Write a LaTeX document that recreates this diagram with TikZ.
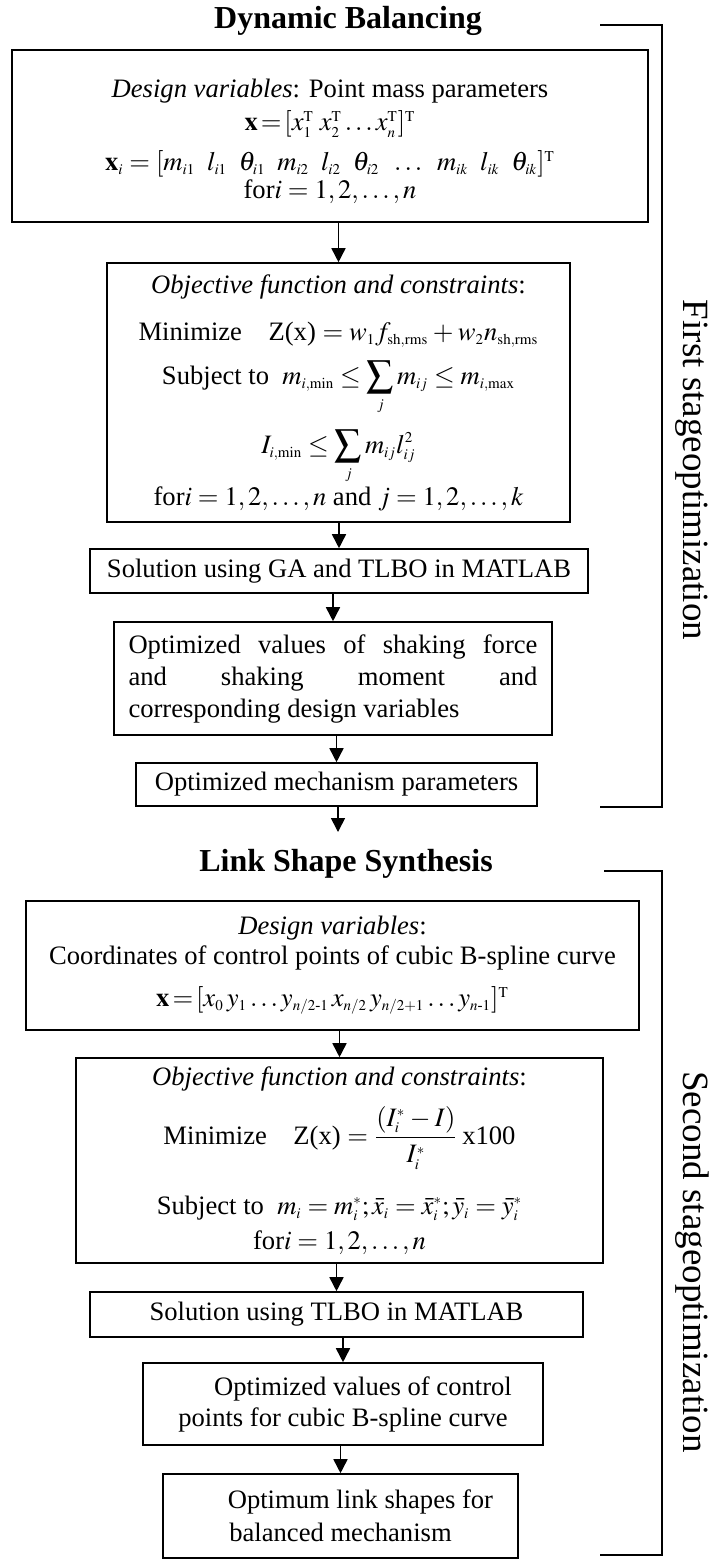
\documentclass[tikz,border=0pt]{standalone}
\usepackage{amsmath}
\usepackage{mathptmx}
\usepackage[no-math]{fontspec}
\setmainfont{Liberation Serif}
\usetikzlibrary{arrows.meta}
\setlength{\lineskiplimit}{-100pt}
\DeclareMathSizes{13.3}{13.3}{7.5}{6}
\medmuskip=3mu plus 1mu minus 2mu
\thickmuskip=4mu plus 2mu minus 1mu

\tikzset{
  box/.style={draw, line width=0.8pt, align=center, inner sep=0pt,
    font=\fontsize{13.3}{14}\selectfont},
  arr/.style={-{Triangle[length=7pt,width=7pt]}, line width=0.8pt},
  heading/.style={font=\fontsize{16}{18}\selectfont\bfseries},
  stage/.style={rotate=-90, font=\fontsize{18.5}{20}\selectfont},
  bracket/.style={line width=0.7pt}
}

\begin{document}
\begin{tikzpicture}[x=0.5pt, y=-0.5pt]
  \useasboundingbox (0,0) rectangle (714,1560);

  % first stage
  \node[heading] (balancing) at (348,21) {Dynamic Balancing};
  \node[box, minimum width=318pt, minimum height=86pt] (design) at (330,136)
    {\rule{0pt}{15pt}\textit{Design variables}: Point mass parameters\\[2.5pt]
     $\mathbf{x}\!=\![x_1^{\mathrm{T}}\;x_2^{\mathrm{T}}\ldots x_n^{\mathrm{T}}]^{\mathrm{T}}$\\[6pt]
     $\mathbf{x}_i=[m_{i1}\;\; l_{i1}\;\; \theta_{i1}\;\; m_{i2}\;\; l_{i2}\;\; \theta_{i2}\;\; \ldots\;\; m_{ik}\;\; l_{ik}\;\; \theta_{ik}]^{\mathrm{T}}$\\[0pt]
     for$i = 1, 2,\ldots,n$};
  \node[box, minimum width=231.5pt, minimum height=129.5pt] (objective) at (338.5,392.5)
    {\textit{Objective function and constraints}:\\[9.5pt]
     Minimize\quad Z(x) $= w_1 f_{\mathrm{sh,rms}} + w_2 n_{\mathrm{sh,rms}}$\\[8pt]
     Subject to\ \ $m_{i,\min}\le\displaystyle\sum_j m_{ij}\le m_{i,\max}$\\[20.5pt]
     $I_{i,\min}\le\displaystyle\sum_j m_{ij}l_{ij}^2$\\[12pt]
     for$i = 1, 2, \ldots, n$ and $j = 1, 2, \ldots, k$};
  \node[box, minimum width=249pt, minimum height=22pt] (solution) at (339,571)
    {Solution using GA and TLBO in MATLAB};
  \node[box, minimum width=219pt, minimum height=56.5pt, text width=204.5pt, align=justify,
    font=\fontsize{13.3}{16}\selectfont] (optvalues) at (333,678.5)
    {Optimized values of shaking force\linebreak and shaking moment and\linebreak
     corresponding design variables};
  \node[box, minimum width=200.5pt, minimum height=21.5pt] (mechanism) at (336.5,784.5)
    {Optimized mechanism parameters};
  \coordinate (linkin) at (338,832);

  % second stage
  \node[heading] (synthesis) at (346,864) {Link Shape Synthesis};
  \node[box, minimum width=306.5pt, minimum height=64.5pt] (splinevars) at (332.5,965.5)
    {\textit{Design variables}:\\[1pt]
     Coordinates of control points of cubic B-spline curve\\[7pt]
     $\mathbf{x}\!=\![x_0\, y_1\ldots y_{n/2\text{-}1}\, x_{n/2}\, y_{n/2+1}\ldots y_{n\text{-}1}]^{\mathrm{T}}$};
  \node[box, minimum width=263.5pt, minimum height=102.5pt] (inertia) at (339.5,1160.5)
    {\textit{Objective function and constraints}:\\[15.5pt]
     Minimize\quad Z(x) $=\dfrac{(I_i^{*}-I)}{I_i^{*}}$\,x100\\[21pt]
     Subject to\ \ $m_i=m_i^{*};\bar{x}_i=\bar{x}_i^{*};\bar{y}_i=\bar{y}_i^{*}$\\[3.5pt]
     for$i = 1, 2,\ldots,n$};
  \node[box, minimum width=246.5pt, minimum height=22.5pt] (tlbo) at (336.5,1314.5)
    {Solution using TLBO in MATLAB};
  \node[box, minimum width=200pt, minimum height=41pt] (ctrlpoints) at (343,1404)
    {\hspace*{1.5em}Optimized values of control\\[1.5pt]
     points for cubic B-spline curve};
  \node[box, minimum width=177.5pt, minimum height=42pt] (linkshapes) at (340.5,1516)
    {\hspace*{1.5em}Optimum link shapes for\\[2.5pt]
     balanced mechanism};

  % flow
  \foreach \from/\to in {design/objective, objective/solution, solution/optvalues,
      optvalues/mechanism, splinevars/inertia, inertia/tlbo, tlbo/ctrlpoints,
      ctrlpoints/linkshapes}
    \draw[arr] (\to.north |- \from.south) -- (\to.north);
  \draw[arr] (mechanism.south -| linkin) -- (linkin);

  % stage brackets
  \draw[bracket] (600,25) -- (662,25) -- (662,807) -- (600,807);
  \draw[bracket] (604,871) -- (662,871) -- (662,1555) -- (600,1555);
  \node[stage] (firststage) at (692,470) {First stageoptimization};
  \node[stage] (secondstage) at (692,1262) {Second stageoptimization};
\end{tikzpicture}
\end{document}
